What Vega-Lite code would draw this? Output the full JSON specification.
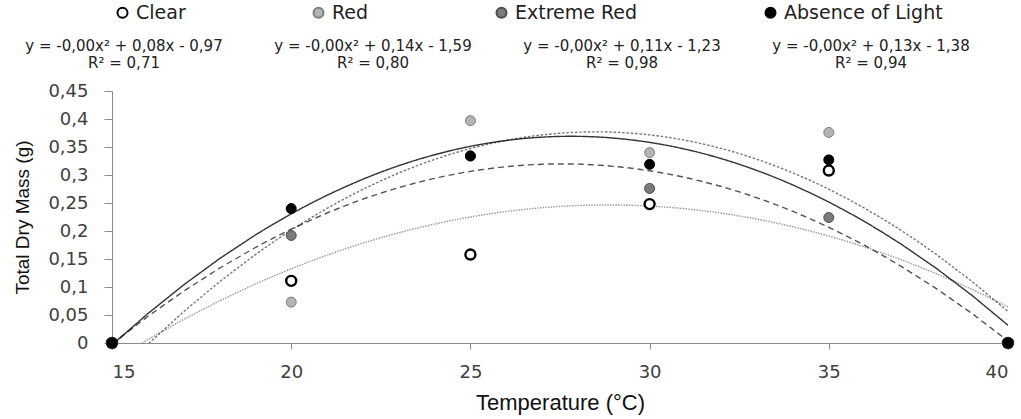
{
  "$schema": "https://vega.github.io/schema/vega-lite/v6.json",
  "width": 896,
  "height": 252,
  "autosize": {"type": "none"},
  "padding": {"left": 112, "top": 91, "right": 13, "bottom": 76},
  "background": "white",
  "config": {"view": {"stroke": null}, "font": "DejaVu Sans"},
  "data": {
    "values": [
      {"temp": 15, "series": "Clear", "mass": 0, "eq": "y = -0,00x² + 0,08x - 0,97|R² = 0,71"},
      {"temp": 20, "series": "Clear", "mass": 0.111, "eq": "y = -0,00x² + 0,08x - 0,97|R² = 0,71"},
      {"temp": 25, "series": "Clear", "mass": 0.158, "eq": "y = -0,00x² + 0,08x - 0,97|R² = 0,71"},
      {"temp": 30, "series": "Clear", "mass": 0.248, "eq": "y = -0,00x² + 0,08x - 0,97|R² = 0,71"},
      {"temp": 35, "series": "Clear", "mass": 0.308, "eq": "y = -0,00x² + 0,08x - 0,97|R² = 0,71"},
      {"temp": 40, "series": "Clear", "mass": 0, "eq": "y = -0,00x² + 0,08x - 0,97|R² = 0,71"},
      {"temp": 15, "series": "Red", "mass": 0, "eq": "y = -0,00x² + 0,14x - 1,59|R² = 0,80"},
      {"temp": 20, "series": "Red", "mass": 0.073, "eq": "y = -0,00x² + 0,14x - 1,59|R² = 0,80"},
      {"temp": 25, "series": "Red", "mass": 0.397, "eq": "y = -0,00x² + 0,14x - 1,59|R² = 0,80"},
      {"temp": 30, "series": "Red", "mass": 0.34, "eq": "y = -0,00x² + 0,14x - 1,59|R² = 0,80"},
      {"temp": 35, "series": "Red", "mass": 0.376, "eq": "y = -0,00x² + 0,14x - 1,59|R² = 0,80"},
      {"temp": 40, "series": "Red", "mass": 0, "eq": "y = -0,00x² + 0,14x - 1,59|R² = 0,80"},
      {"temp": 15, "series": "Extreme Red", "mass": 0, "eq": "y = -0,00x² + 0,11x - 1,23|R² = 0,98"},
      {"temp": 20, "series": "Extreme Red", "mass": 0.192, "eq": "y = -0,00x² + 0,11x - 1,23|R² = 0,98"},
      {"temp": 25, "series": "Extreme Red", "mass": 0.334, "eq": "y = -0,00x² + 0,11x - 1,23|R² = 0,98"},
      {"temp": 30, "series": "Extreme Red", "mass": 0.276, "eq": "y = -0,00x² + 0,11x - 1,23|R² = 0,98"},
      {"temp": 35, "series": "Extreme Red", "mass": 0.224, "eq": "y = -0,00x² + 0,11x - 1,23|R² = 0,98"},
      {"temp": 40, "series": "Extreme Red", "mass": 0, "eq": "y = -0,00x² + 0,11x - 1,23|R² = 0,98"},
      {"temp": 15, "series": "Absence of Light", "mass": 0, "eq": "y = -0,00x² + 0,13x - 1,38|R² = 0,94"},
      {"temp": 20, "series": "Absence of Light", "mass": 0.24, "eq": "y = -0,00x² + 0,13x - 1,38|R² = 0,94"},
      {"temp": 25, "series": "Absence of Light", "mass": 0.334, "eq": "y = -0,00x² + 0,13x - 1,38|R² = 0,94"},
      {"temp": 30, "series": "Absence of Light", "mass": 0.319, "eq": "y = -0,00x² + 0,13x - 1,38|R² = 0,94"},
      {"temp": 35, "series": "Absence of Light", "mass": 0.327, "eq": "y = -0,00x² + 0,13x - 1,38|R² = 0,94"},
      {"temp": 40, "series": "Absence of Light", "mass": 0, "eq": "y = -0,00x² + 0,13x - 1,38|R² = 0,94"}
    ]
  },
  "encoding": {
    "x": {
      "field": "temp",
      "type": "quantitative",
      "scale": {"domain": [15, 40], "nice": false, "zero": false},
      "axis": {
        "title": "Temperature (°C)",
        "values": [15, 20, 25, 30, 35, 40],
        "format": "d",
        "grid": false,
        "domainColor": "#8c8c8c",
        "tickColor": "#8c8c8c",
        "tickSize": 6,
        "labelFont": "DejaVu Sans",
        "labelFontSize": 18,
        "labelColor": "#404040",
        "labelPadding": 14,
        "titleFont": "Liberation Sans",
        "titleFontSize": 22,
        "titleFontWeight": "normal",
        "titleColor": "#111111",
        "titlePadding": 11
      }
    },
    "y": {
      "field": "mass",
      "type": "quantitative",
      "scale": {"domain": [0, 0.45], "nice": false},
      "axis": {
        "title": "Total Dry Mass (g)",
        "values": [0, 0.05, 0.1, 0.15, 0.2, 0.25, 0.3, 0.35, 0.4, 0.45],
        "format": "~g",
        "labelExpr": "replace(datum.label, '.', ',')",
        "grid": false,
        "domainColor": "#8c8c8c",
        "tickColor": "#8c8c8c",
        "tickSize": 8,
        "labelFont": "DejaVu Sans",
        "labelFontSize": 18,
        "labelColor": "#404040",
        "labelPadding": 16,
        "titleFont": "Liberation Sans",
        "titleFontSize": 19,
        "titleFontWeight": "normal",
        "titleColor": "#111111",
        "titlePadding": 15
      }
    }
  },
  "layer": [
    {
      "transform": [
        {"regression": "mass", "on": "temp", "method": "poly", "order": 2, "groupby": ["series", "eq"], "extent": [15, 40]}
      ],
      "mark": {"type": "line", "clip": true, "strokeWidth": 1.4, "color": "#000000"},
      "encoding": {
        "opacity": {
          "field": "eq",
          "type": "nominal",
          "scale": {
            "domain": ["y = -0,00x² + 0,08x - 0,97|R² = 0,71", "y = -0,00x² + 0,14x - 1,59|R² = 0,80", "y = -0,00x² + 0,11x - 1,23|R² = 0,98", "y = -0,00x² + 0,13x - 1,38|R² = 0,94"],
            "range": [0.4, 0.8, 1, 1]
          },
          "legend": {
            "orient": "none",
            "legendX": -3,
            "legendY": -53,
            "direction": "horizontal",
            "title": null,
            "padding": 0,
            "symbolOpacity": 0,
            "symbolSize": 0,
            "symbolStrokeWidth": 0,
            "labelOffset": 0,
            "labelAlign": "center",
            "labelExpr": "split(datum.label, '|')",
            "labelFont": "DejaVu Sans",
            "labelFontSize": 15,
            "labelColor": "#222222",
            "labelLimit": 400,
            "columnPadding": 51
          }
        },
        "strokeDash": {
          "field": "eq",
          "type": "nominal",
          "scale": {
            "domain": ["y = -0,00x² + 0,08x - 0,97|R² = 0,71", "y = -0,00x² + 0,14x - 1,59|R² = 0,80", "y = -0,00x² + 0,11x - 1,23|R² = 0,98", "y = -0,00x² + 0,13x - 1,38|R² = 0,94"],
            "range": [[1.5, 1.2], [2.5, 1.8], [6, 4], [1, 0]]
          },
          "legend": {
            "orient": "none",
            "legendX": -3,
            "legendY": -53,
            "direction": "horizontal",
            "title": null,
            "padding": 0,
            "symbolOpacity": 0,
            "symbolSize": 0,
            "symbolStrokeWidth": 0,
            "labelOffset": 0,
            "labelAlign": "center",
            "labelExpr": "split(datum.label, '|')",
            "labelFont": "DejaVu Sans",
            "labelFontSize": 15,
            "labelColor": "#222222",
            "labelLimit": 400,
            "columnPadding": 51
          }
        }
      }
    },
    {
      "mark": {"type": "point", "filled": true, "opacity": 1, "size": 100},
      "encoding": {
        "fill": {
          "field": "series",
          "type": "nominal",
          "scale": {"domain": ["Clear", "Red", "Extreme Red", "Absence of Light"], "range": ["#ffffff", "#b4b4b4", "#7a7a7a", "#000000"]},
          "legend": {
            "orient": "none",
            "legendX": 1,
            "legendY": -88,
            "direction": "horizontal",
            "title": null,
            "padding": 0,
            "symbolType": "circle",
            "symbolSize": 100,
            "symbolStrokeWidth": 2,
            "labelOffset": 4,
            "labelFont": "DejaVu Sans",
            "labelFontSize": 19,
            "labelColor": "#222222",
            "columnPadding": 123
          }
        },
        "stroke": {
          "field": "series",
          "type": "nominal",
          "scale": {"domain": ["Clear", "Red", "Extreme Red", "Absence of Light"], "range": ["#000000", "#808080", "#4d4d4d", "#000000"]},
          "legend": {
            "orient": "none",
            "legendX": 1,
            "legendY": -88,
            "direction": "horizontal",
            "title": null,
            "padding": 0,
            "symbolType": "circle",
            "symbolSize": 100,
            "symbolStrokeWidth": 2,
            "labelOffset": 4,
            "labelFont": "DejaVu Sans",
            "labelFontSize": 19,
            "labelColor": "#222222",
            "columnPadding": 123
          }
        },
        "strokeWidth": {
          "condition": {"test": "datum.series === 'Clear'", "value": 2.4},
          "value": 1
        }
      }
    }
  ]
}
